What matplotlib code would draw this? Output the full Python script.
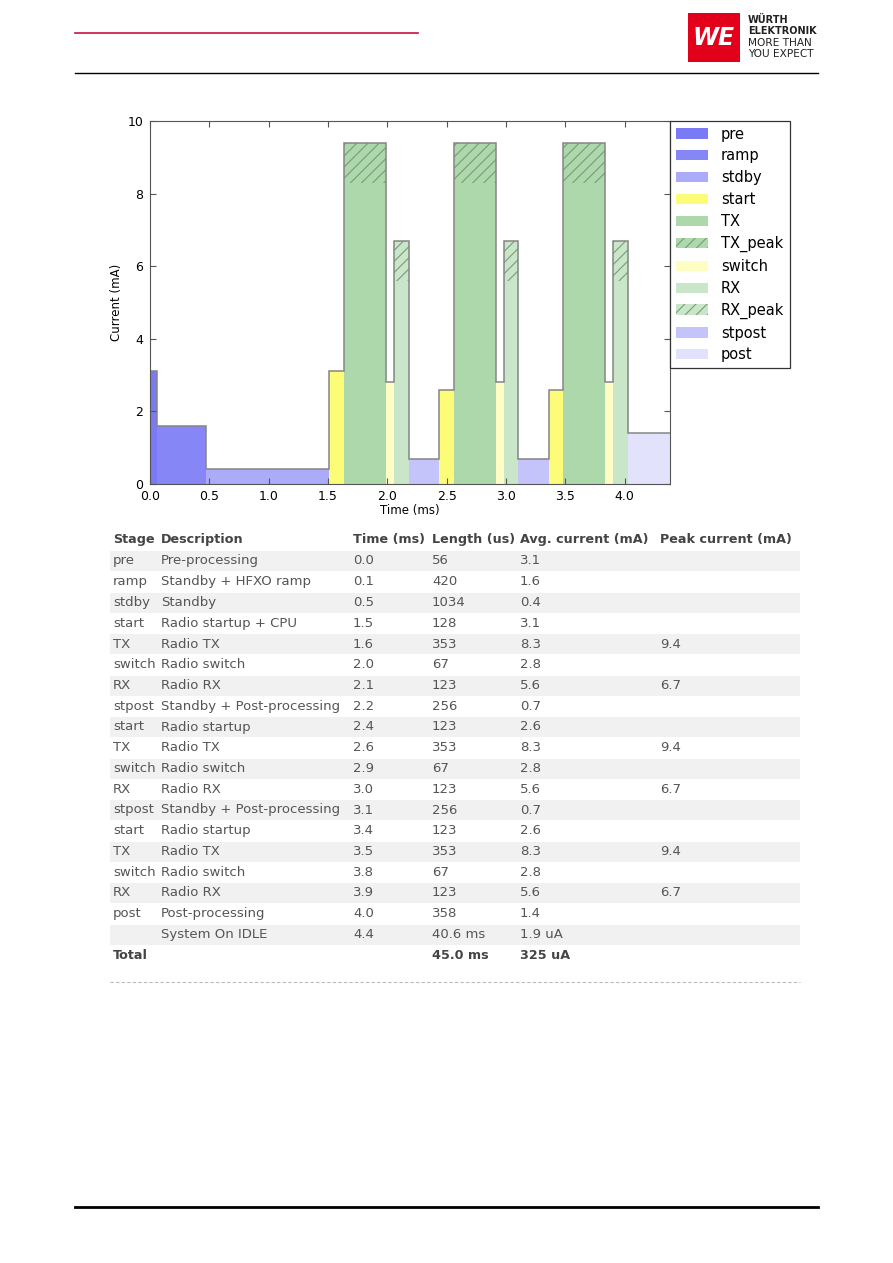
import numpy as np
import matplotlib
matplotlib.use('Agg')
import matplotlib.pyplot as plt
import matplotlib.patches as mpatches
from matplotlib.lines import Line2D

# stage data
stages = ['pre', 'ramp', 'stdby', 'start', 'TX', 'switch', 'RX', 'stpost',
          'start', 'TX', 'switch', 'RX', 'stpost',
          'start', 'TX', 'switch', 'RX', 'post']
descriptions = ['Pre-processing', 'Standby + HFXO ramp', 'Standby', 'Radio startup + CPU',
                'Radio TX', 'Radio switch', 'Radio RX', 'Standby + Post-processing',
                'Radio startup', 'Radio TX', 'Radio switch', 'Radio RX', 'Standby + Post-processing',
                'Radio startup', 'Radio TX', 'Radio switch', 'Radio RX', 'Post-processing']
time_ms = [0.0, 0.1, 0.5, 1.5, 1.6, 2.0, 2.1, 2.2, 2.4, 2.6, 2.9, 3.0, 3.1,
           3.4, 3.5, 3.8, 3.9, 4.0]
length_us = [56, 420, 1034, 128, 353, 67, 123, 256, 123, 353, 67, 123, 256,
             123, 353, 67, 123, 358]
avg_ma = [3.1, 1.6, 0.4, 3.1, 8.3, 2.8, 5.6, 0.7, 2.6, 8.3, 2.8, 5.6, 0.7,
          2.6, 8.3, 2.8, 5.6, 1.4]
peak_ma = [None, None, None, None, 9.4, None, 6.7, None, None, 9.4, None, 6.7, None,
           None, 9.4, None, 6.7, None]

idle_row = ['', 'System On IDLE', '4.4', '40.6 ms', '1.9 uA', '']
total_row = ['Total', '', '', '45.0 ms', '325 uA', '']
table_header = ['Stage', 'Description', 'Time (ms)', 'Length (us)', 'Avg. current (mA)', 'Peak current (mA)']

legend_labels = ['pre', 'ramp', 'stdby', 'start', 'TX', 'TX_peak', 'switch', 'RX',
                 'RX_peak', 'stpost', 'post']

colors = {
    'pre': '#7a7af5', 'ramp': '#8686f6', 'stdby': '#ababf9', 'start': '#fcfc78',
    'TX': '#acd8ac', 'switch': '#fdfdc4', 'RX': '#c9e6c9', 'stpost': '#c4c4fb',
    'post': '#e2e2fc',
}
hatch_col = '#7a9a7a'

W, H = 893, 1263
fig = plt.figure(figsize=(W / 100, H / 100), dpi=100)
plt.rcParams['hatch.linewidth'] = 0.8


def fx(x):
    return x / W


def fy(y):
    return 1 - y / H


# ---- page header ----
fig.add_artist(Line2D([fx(75), fx(418)], [fy(33), fy(33)], color='#c8103e', lw=1.2))
fig.add_artist(Line2D([fx(75), fx(818)], [fy(73), fy(73)], color='black', lw=1.0))
fig.add_artist(mpatches.Rectangle((fx(688), fy(62)), fx(52), 49 / H, color='#e2001a', lw=0))
fig.text(fx(714), fy(38), 'WE', color='white', fontsize=17, fontweight='bold',
         style='italic', ha='center', va='center', family='DejaVu Sans')
for i, (t, wgt, sz) in enumerate([('WÜRTH', 'bold', 7.0), ('ELEKTRONIK', 'bold', 7.0),
                                  ('MORE THAN', 'normal', 7.6), ('YOU EXPECT', 'normal', 7.6)]):
    fig.text(fx(748), fy(20 + i * 11.3), t, fontsize=sz, fontweight=wgt,
             ha='left', va='center', color='#222222')

# bottom rule
fig.add_artist(Line2D([fx(75), fx(818)], [fy(1207), fy(1207)], color='black', lw=2.0))

# ---- chart ----
ax = fig.add_axes([fx(150), fy(484), (670 - 150) / W, (484 - 121) / H])
edges = np.concatenate([[0], np.cumsum(length_us)]) / 1000.0
tops = []
for i, st in enumerate(stages):
    x0 = edges[i]
    w = edges[i + 1] - edges[i]
    ax.bar(x0, avg_ma[i], width=w, align='edge', color=colors[st], lw=0)
    if peak_ma[i] is not None:
        ax.bar(x0, peak_ma[i] - avg_ma[i], bottom=avg_ma[i], width=w, align='edge',
               facecolor=colors[st], edgecolor=hatch_col, hatch='///', lw=0)
        tops.append(peak_ma[i])
    else:
        tops.append(avg_ma[i])
ax.stairs(tops, edges, baseline=None, color='#858585', lw=1.1)

ax.set_xlim(0, edges[-1])
ax.set_ylim(0, 10)
ax.set_xticks(np.arange(0, 4.01, 0.5))
ax.set_xticklabels(['%.1f' % v for v in np.arange(0, 4.01, 0.5)])
ax.set_yticks(np.arange(0, 11, 2))
ax.tick_params(direction='in', top=True, right=True, length=4, width=0.8,
               labelsize=9, color='#555555')
ax.tick_params(axis='x', pad=4)
ax.tick_params(axis='y', pad=5)
for sp in ax.spines.values():
    sp.set_color('#555555')
ax.set_xlabel('Time (ms)', fontsize=8.5, labelpad=1)
ax.set_ylabel('Current (mA)', fontsize=8.5, labelpad=3)

handles = []
for lab in legend_labels:
    if lab.endswith('_peak'):
        base = lab.split('_')[0]
        handles.append(mpatches.Patch(facecolor=colors[base], edgecolor=hatch_col,
                                      hatch='///', lw=0, label=lab))
    else:
        handles.append(mpatches.Patch(facecolor=colors[lab], lw=0, label=lab))
leg = ax.legend(handles=handles, loc='upper left', bbox_to_anchor=(1.0, 1.0),
                borderaxespad=0, fontsize=10.5, fancybox=False, framealpha=1,
                edgecolor='#333333', handlelength=2.2, labelspacing=0.47,
                handletextpad=0.9, borderpad=0.38)
leg.get_frame().set_linewidth(0.9)

# ---- table ----
col_x = [113, 161, 353, 432, 520, 660]
row0 = 561
step = 20.75
band_x0, band_x1 = 110, 800

rows = []
for i in range(len(stages)):
    rows.append([stages[i], descriptions[i], '%.1f' % time_ms[i], str(length_us[i]),
                 '%.1f' % avg_ma[i], '' if peak_ma[i] is None else '%.1f' % peak_ma[i]])
rows.append(idle_row)

for j, txt in enumerate(table_header):
    fig.text(fx(col_x[j]), fy(540), txt, fontsize=9.2, fontweight='bold',
             color='#444444', ha='left', va='center')

for r, row in enumerate(rows):
    yc = row0 + r * step
    if r % 2 == 0:
        fig.add_artist(mpatches.Rectangle((fx(band_x0), fy(yc + 10)), (band_x1 - band_x0) / W,
                                          20 / H, color='#f1f1f1', lw=0, zorder=0))
    for j, txt in enumerate(row):
        fig.text(fx(col_x[j]), fy(yc), txt, fontsize=9.5, color='#555555',
                 ha='left', va='center')

yt = row0 + len(rows) * step
for j, txt in enumerate(total_row):
    fig.text(fx(col_x[j]), fy(yt), txt, fontsize=9.2, fontweight='bold',
             color='#444444', ha='left', va='center')

fig.add_artist(Line2D([fx(110), fx(800)], [fy(982), fy(982)], color='#bbbbbb',
                      lw=0.8, ls=(0, (3, 2))))

fig.savefig('out.png', dpi=100)
